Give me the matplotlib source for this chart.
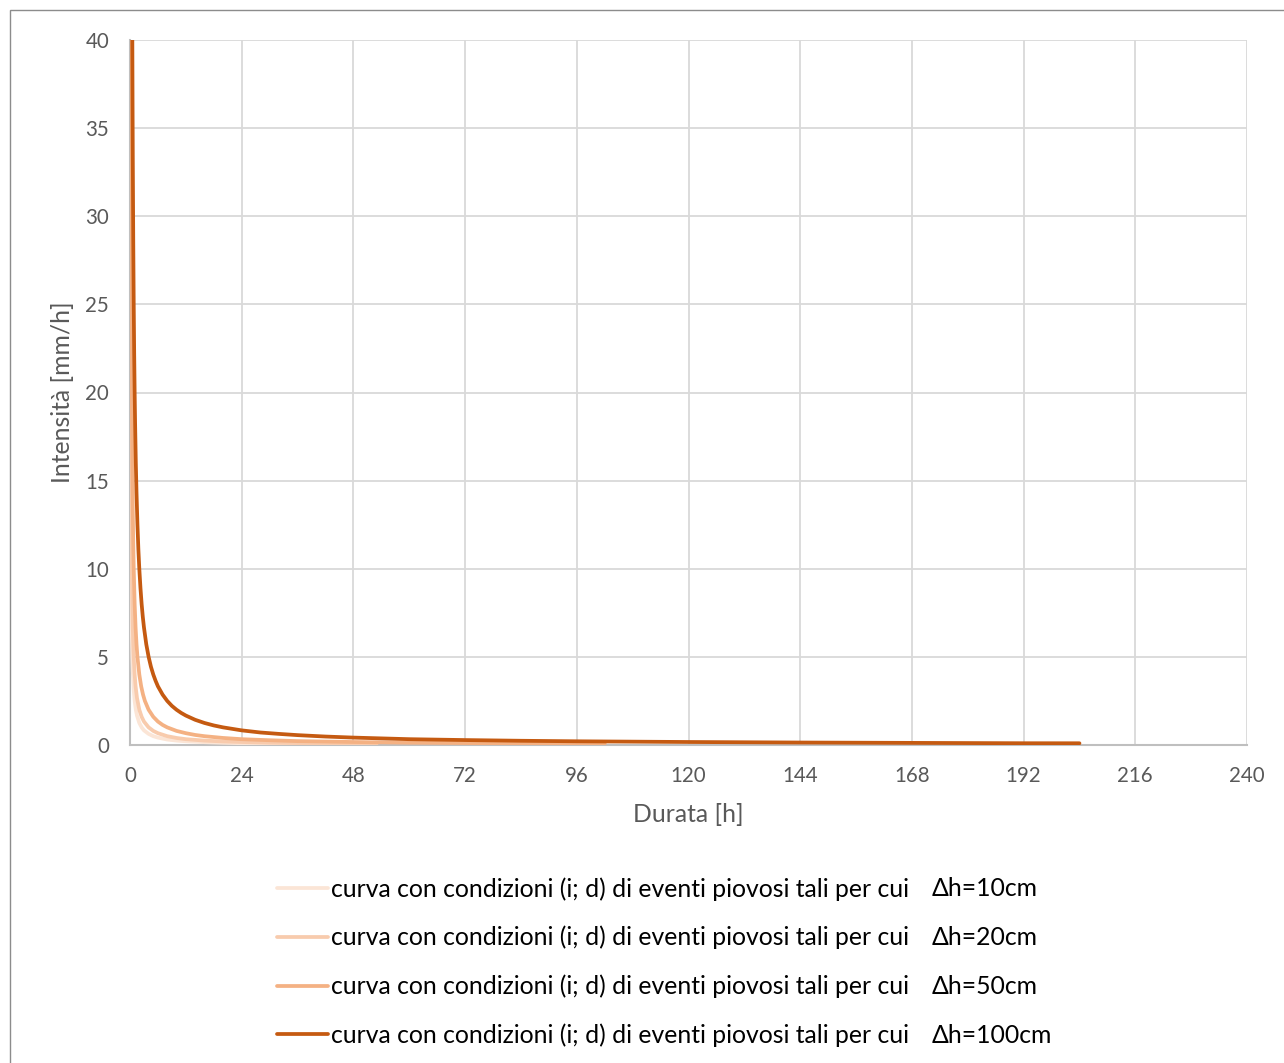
import matplotlib
matplotlib.use("Agg")
import matplotlib.pyplot as plt
from matplotlib.patches import Rectangle

plt.rcParams['font.family'] = ['Lato', 'DejaVu Sans']

# ---- data (durata [h], intensità [mm/h]) ----
d_10 = [0.0625, 0.07, 0.08, 0.09, 0.1, 0.12, 0.14, 0.16, 0.2, 0.25, 0.3, 0.4,
        0.5, 0.6, 0.8, 1, 1.25, 1.5, 2, 2.5, 3, 4, 5, 6, 8, 10, 12, 16, 20, 24, 30, 38]
i_10 = [40, 35.7, 31.3, 27.8, 25, 20.8, 17.9, 15.6, 12.5, 10, 8.3, 6.25,
        5, 4.17, 3.13, 2.5, 2, 1.67, 1.25, 1, 0.83, 0.63, 0.5, 0.42, 0.31, 0.25, 0.21, 0.16, 0.125, 0.10, 0.083, 0.066]

d_20 = [0.1, 0.11, 0.125, 0.14, 0.16, 0.18, 0.2, 0.25, 0.3, 0.35, 0.4, 0.5,
        0.6, 0.7, 0.8, 1, 1.2, 1.5, 2, 2.5, 3, 4, 5, 6, 8, 10, 12, 16, 20, 24, 30, 36, 44, 53]
i_20 = [40, 36.4, 32, 28.6, 25, 22.2, 20, 16, 13.3, 11.4, 10, 8,
        6.67, 5.71, 5, 4, 3.33, 2.67, 2, 1.6, 1.33, 1, 0.8, 0.67, 0.5, 0.4, 0.33, 0.25, 0.2, 0.17, 0.13, 0.11, 0.09, 0.075]

d_50 = [0.2, 0.22, 0.25, 0.28, 0.32, 0.36, 0.4, 0.45, 0.5, 0.6, 0.7, 0.8,
        1, 1.2, 1.4, 1.6, 2, 2.4, 2.8, 3.2, 4, 5, 6, 7, 8, 10, 12, 14, 16, 20,
        24, 30, 36, 48, 60, 72, 84, 96, 102]
i_50 = [40, 36.4, 32, 28.6, 25, 22.2, 20, 17.8, 16, 13.3, 11.4, 10,
        8, 6.67, 5.71, 5, 4, 3.33, 2.86, 2.5, 2, 1.6, 1.33, 1.14, 1, 0.8, 0.67, 0.57, 0.5, 0.4,
        0.33, 0.27, 0.22, 0.17, 0.13, 0.11, 0.095, 0.083, 0.078]

d_100 = [0.5, 0.55, 0.6, 0.7, 0.8, 0.9, 1, 1.1, 1.25, 1.4, 1.6, 1.8,
         2, 2.25, 2.5, 2.75, 3, 3.5, 4, 4.5, 5, 5.5, 6, 7,
         8, 9, 10, 11, 12, 14, 16, 18, 20, 24, 28, 32,
         36, 42, 48, 60, 72, 84, 96, 120, 144, 168, 192, 204]
i_100 = [40, 36.4, 33.3, 28.6, 25, 22.2, 20, 18.2, 16, 14.3, 12.5, 11.1,
         10, 8.9, 8, 7.27, 6.67, 5.71, 5, 4.44, 4, 3.64, 3.33, 2.86,
         2.5, 2.22, 2, 1.82, 1.67, 1.43, 1.25, 1.11, 1, 0.83, 0.71, 0.63,
         0.56, 0.48, 0.42, 0.33, 0.28, 0.24, 0.21, 0.17, 0.14, 0.12, 0.10, 0.098]

label_main = "curva con condizioni (i; d) di eventi piovosi tali per cui"
delta_labels = ["\u0394h=10cm", "\u0394h=20cm", "\u0394h=50cm", "\u0394h=100cm"]
colors = ["#fbe5d6", "#f8cbad", "#f4b183", "#c55a11"]

x_ticks = [0, 24, 48, 72, 96, 120, 144, 168, 192, 216, 240]
y_ticks = [0, 5, 10, 15, 20, 25, 30, 35, 40]

W, H = 1284, 1063
fig = plt.figure(figsize=(W / 100, H / 100), dpi=100)

# outer chart border
fig.add_artist(Rectangle((10 / W, -0.01), 1.2, (H - 10) / H + 0.01, transform=fig.transFigure,
                         fill=False, edgecolor="#8c8c8c", linewidth=1.0))

ax = fig.add_axes([130 / W, 1 - 745 / H, (1247 - 130) / W, (745 - 40) / H])

series = [(d_10, i_10), (d_20, i_20), (d_50, i_50), (d_100, i_100)]
handles = []
for (dx, iy), c in zip(series, colors):
    ln, = ax.plot(dx, iy, color=c, linewidth=2.7, solid_capstyle='round',
                  solid_joinstyle='round', zorder=3)
    handles.append(ln)

ax.set_xlim(0, 240)
ax.set_ylim(0, 40)
ax.set_xticks(x_ticks)
ax.set_yticks(y_ticks)
ax.grid(True, color="#d9d9d9", linewidth=1.3)
ax.set_axisbelow(True)
for s in ["top", "right"]:
    ax.spines[s].set_visible(False)
for s in ["left", "bottom"]:
    ax.spines[s].set_color("#bfbfbf")
    ax.spines[s].set_linewidth(1.5)
ax.tick_params(length=0, labelsize=14.8, labelcolor="#595959")
ax.tick_params(axis='y', pad=15)
ax.tick_params(axis='x', pad=15)
ax.set_xlabel("Durata [h]", fontsize=17.8, color="#595959", labelpad=12)
ax.set_ylabel("Intensità [mm/h]", fontsize=17.8, color="#595959", labelpad=8)

leg = fig.legend(handles, [label_main] * 4, loc="upper left",
                 bbox_to_anchor=(277 / W, 1 - 877 / H), frameon=False,
                 fontsize=17.8, handlelength=2.05, handletextpad=0.12,
                 labelspacing=1.02, borderpad=0, borderaxespad=0)
for t in leg.get_texts():
    t.set_color("#000000")

fig.canvas.draw()
r = fig.canvas.get_renderer()
for t, lab in zip(leg.get_texts(), delta_labels):
    bb = t.get_window_extent(r)
    yc = (bb.y0 + bb.y1) / 2
    fig.text(932 / W, yc / H, lab, fontsize=17.8, color="#000000", va="center", ha="left")

fig.savefig("out.png", dpi=100)
